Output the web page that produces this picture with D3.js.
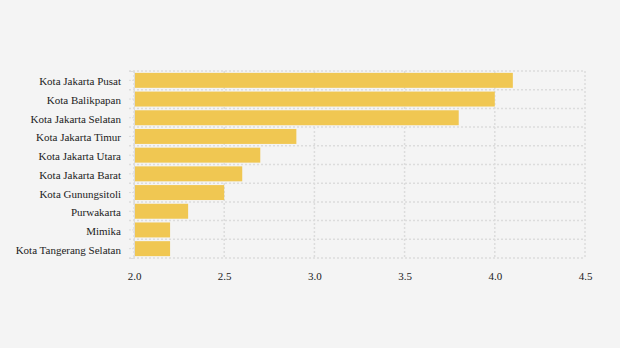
<!DOCTYPE html>
<html><head><meta charset="utf-8">
<script src="https://cdn.jsdelivr.net/npm/d3@7"></script>
<style>
html,body{margin:0;padding:0;background:#f4f4f4;}
svg{display:block;}
</style></head>
<body>
<svg id="c" width="620" height="348"></svg>
<script>
const categories = ["Kota Jakarta Pusat","Kota Balikpapan","Kota Jakarta Selatan","Kota Jakarta Timur","Kota Jakarta Utara","Kota Jakarta Barat","Kota Gunungsitoli","Purwakarta","Mimika","Kota Tangerang Selatan"];
const values = [4.1, 4.0, 3.8, 2.9, 2.7, 2.6, 2.5, 2.3, 2.2, 2.2];
const xTicks = [2.0, 2.5, 3.0, 3.5, 4.0, 4.5];

(function(){
const FONT = "'Liberation Serif', 'Times New Roman', serif";
const svg = d3.select("#c");
const mLeft = 134, mRight = 585, mTop = 71, mBottom = 258;
const x = d3.scaleLinear().domain([2.0, 4.5]).range([mLeft, mRight]);
const y = d3.scaleBand().domain(categories).range([mTop, mBottom]).paddingInner(0.2).paddingOuter(0.1);

const grid = svg.append("g");
grid.selectAll("line.v").data(xTicks).join("line")
  .attr("x1", d => x(d)).attr("x2", d => x(d))
  .attr("y1", mTop).attr("y2", mBottom)
  .attr("stroke", "#dcdcdc").attr("stroke-width", 1.5).attr("stroke-dasharray", "2,2");
const step = (mBottom - mTop) / categories.length;
const hb = d3.range(categories.length + 1).map(i => mTop + i * step);
grid.selectAll("line.h").data(hb).join("line")
  .attr("x1", mLeft - 5).attr("x2", mRight)
  .attr("y1", d => d).attr("y2", d => d)
  .attr("stroke", "#dcdcdc").attr("stroke-width", 1.5).attr("stroke-dasharray", "2,2");

svg.append("g").selectAll("rect").data(values).join("rect")
  .attr("x", x(2.0)+1)
  .attr("y", (d, i) => y(categories[i]))
  .attr("width", d => x(d) - x(2.0) - 1)
  .attr("height", y.bandwidth())
  .attr("fill", "#f0c752");

const ya = svg.append("g").attr("transform", `translate(${mLeft},0)`)
  .call(d3.axisLeft(y).tickSize(5).tickPadding(8));
ya.attr("font-family", null).attr("font-size", null);
ya.select(".domain").attr("stroke", "#dcdcdc");
ya.selectAll(".tick line").attr("stroke", "#dcdcdc").attr("stroke-dasharray", "2,1");
ya.selectAll(".tick text").style("font-size", "11px").style("font-family", FONT).style("fill", "#222").attr("dy", "0.45em");

const xa = svg.append("g").attr("transform", `translate(0,${mBottom})`)
  .call(d3.axisBottom(x).tickValues(xTicks).tickFormat(d3.format(".1f")).tickSize(0).tickPadding(14));
xa.attr("font-family", null).attr("font-size", null);
xa.select(".domain").remove();
xa.selectAll(".tick text").style("font-size", "11px").style("font-family", FONT).style("fill", "#222");
})();
</script>
</body></html>
